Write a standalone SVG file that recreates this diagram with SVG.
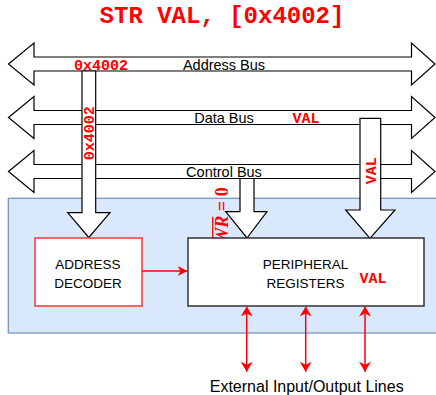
<svg xmlns="http://www.w3.org/2000/svg" width="436" height="395" viewBox="0 0 436 395">
<style>
.bus{fill:#fff;stroke:#000;stroke-width:1.2}
.lbl{font-family:"Liberation Sans",Arial,sans-serif;fill:#000;text-anchor:middle}
.red{font-family:"Liberation Mono","Courier New",monospace;font-weight:bold;fill:#ff0000;text-anchor:middle}
.rl{stroke:#ff0000;stroke-width:1.5;fill:none}
</style>
<defs>
<marker id="ah" viewBox="0 0 10 10" refX="10" refY="5" markerWidth="10" markerHeight="10" markerUnits="userSpaceOnUse" orient="auto-start-reverse">
<path d="M0,0 L10,5 L0,10 L3,5 Z" fill="#ff0000"/>
</marker>
<marker id="ah2" viewBox="0 0 10 12" refX="10" refY="6" markerWidth="10" markerHeight="12" markerUnits="userSpaceOnUse" orient="auto-start-reverse">
<path d="M0,0 L10,6 L0,12 L3,6 Z" fill="#ff0000"/>
</marker>
</defs>
<rect width="436" height="395" fill="#fff"/>
<text class="red" x="222" y="23" font-size="24">STR VAL, [0x4002]</text>
<g id="soc">
<rect x="8.3" y="198.3" width="440" height="134.7" fill="#dae8fc" stroke="#6c8ebf" stroke-width="1.2"/>
</g>
<g id="address-bus">
<polygon class="bus" points="8.5,64 34,43 34,57 411.5,57 411.5,43 435,64 411.5,85 411.5,71 34,71 34,85"/>
<text class="lbl" x="224" y="70" font-size="14.5">Address Bus</text>
</g>
<g id="data-bus">
<polygon class="bus" points="8.5,117.5 34,96.5 34,110.5 411.5,110.5 411.5,96.5 435,117.5 411.5,138.5 411.5,124.5 34,124.5 34,138.5"/>
<text class="lbl" x="224" y="122.7" font-size="14.5">Data Bus</text>
<text class="red" x="306" y="122.7" font-size="15">VAL</text>
</g>
<g id="control-bus">
<polygon class="bus" points="8.5,171.5 34,150.5 34,164.5 411.5,164.5 411.5,150.5 435,171.5 411.5,192.5 411.5,178.5 34,178.5 34,192.5"/>
<text class="lbl" x="224" y="177" font-size="14.5">Control Bus</text>
</g>
<g id="addr-arrow">
<polygon class="bus" points="82,71 95.7,71 95.7,212.7 110,212.7 88.8,237.5 67.7,212.7 82,212.7"/>
<text class="red" x="101" y="70" font-size="15">0x4002</text>
<text class="red" transform="translate(94.3,133.3) rotate(-90)" font-size="15">0x4002</text>
</g>
<g id="ctrl-arrow">
<polygon class="bus" points="240,178.5 254,178.5 254,211.7 267,211.7 247,238 225.7,211.7 240,211.7"/>
<text transform="translate(227.5,215.5) rotate(-90)" font-family="'Liberation Serif','Times New Roman',serif" font-weight="bold" font-size="18" fill="#ff0000" text-anchor="middle"><tspan font-style="italic">WR</tspan> = 0</text>
<line x1="212.7" y1="216.7" x2="212.7" y2="243.3" stroke="#ff0000" stroke-width="1.3"/>
</g>
<g id="data-arrow">
<polygon class="bus" points="360,118.3 380.7,118.3 380.7,210 395,210 370,238.3 345.7,210 360,210"/>
<text class="red" transform="translate(375.7,170.8) rotate(-90)" font-size="15">VAL</text>
</g>
<g id="address-decoder">
<rect x="35" y="238" width="107" height="68" fill="#fff" stroke="#ff3333" stroke-width="1.5"/>
<text class="lbl" x="88" y="269.3" font-size="13.5">ADDRESS</text>
<text class="lbl" x="88" y="288.3" font-size="13.5">DECODER</text>
</g>
<g id="peripheral-registers">
<rect x="188" y="238" width="236" height="68" fill="#fff" stroke="#333" stroke-width="1.5"/>
<text class="lbl" x="305.5" y="269.3" font-size="13.5">PERIPHERAL</text>
<text class="lbl" x="305.5" y="288.3" font-size="13.5">REGISTERS</text>
<text class="red" x="373" y="283.3" font-size="15">VAL</text>
</g>
<g id="connectors">
<line class="rl" x1="142" y1="271" x2="187.5" y2="271" marker-end="url(#ah)"/>
<line class="rl" x1="246.7" y1="306.5" x2="246.7" y2="371.7" marker-start="url(#ah2)" marker-end="url(#ah2)"/>
<line class="rl" x1="305.7" y1="306.5" x2="305.7" y2="371.7" marker-start="url(#ah2)" marker-end="url(#ah2)"/>
<line class="rl" x1="365" y1="306.5" x2="365" y2="371.7" marker-start="url(#ah2)" marker-end="url(#ah2)"/>
</g>
<text class="lbl" x="306.7" y="391.7" font-size="16">External Input/Output Lines</text>
</svg>
